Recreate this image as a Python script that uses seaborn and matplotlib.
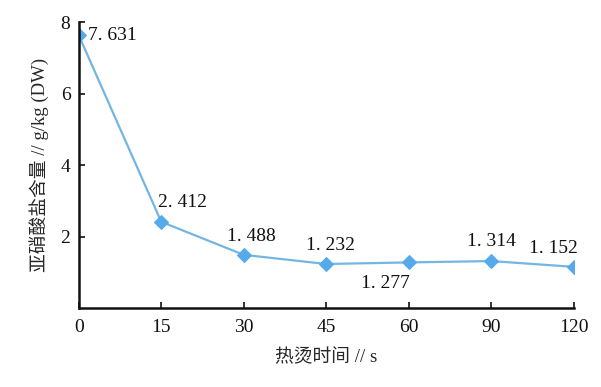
import matplotlib
matplotlib.use("Agg")
import matplotlib.pyplot as plt
import seaborn as sns
import pandas as pd

times = ["0", "15", "30", "45", "60", "90", "120"]
nitrite = [7.631, 2.412, 1.488, 1.232, 1.277, 1.314, 1.152]
labels = ["7. 631", "2. 412", "1. 488", "1. 232", "1. 277", "1. 314", "1. 152"]
# label offsets in points (dx, dy) and horizontal alignment
offsets = [(7, 0, "left"), (-2, 14, "left"), (-12, 13, "left"), (3, 13, "center"),
           (-17, -15, "center"), (0, 14, "center"), (-15, 13, "center")]

sns.set_style("ticks")
plt.rcParams["font.family"] = ["Liberation Serif", "Noto Sans CJK SC", "DejaVu Sans"]

df = pd.DataFrame({"time": times, "nitrite": nitrite})

fig = plt.figure(figsize=(6.01, 3.87), dpi=100)
ax = fig.add_axes([0.131, 0.204, 0.824, 0.739])

sns.lineplot(data=df, x="time", y="nitrite", ax=ax, sort=False,
             color="#74b6e2", linewidth=1.6, marker="D", markersize=7,
             markerfacecolor="#55aaea", markeredgecolor="#55aaea")

for i, (v, lab, (dx, dy, ha)) in enumerate(zip(nitrite, labels, offsets)):
    ax.annotate(lab, (i, v), xytext=(dx, dy), textcoords="offset points",
                ha=ha, va="center", fontsize=14, color="#111111")

ax.set_xlim(0, len(times) - 1)
ax.set_ylim(0, 8)
ax.set_yticks([2, 4, 6, 8])
ax.set_xticks(range(len(times)))
ax.set_xticklabels(times)
ax.tick_params(axis="both", direction="in", length=4, width=1.2, labelsize=14, colors="#111111")
ax.tick_params(axis="x", pad=8)
ax.tick_params(axis="y", pad=6)
for s in ["top", "right"]:
    ax.spines[s].set_visible(False)
for s in ["left", "bottom"]:
    ax.spines[s].set_linewidth(1.8)
    ax.spines[s].set_color("#111111")

ax.set_xlabel("热烫时间 // s", fontsize=13.5, labelpad=9)
ax.set_ylabel("亚硝酸盐含量 // g/kg (DW)", fontsize=13.5, labelpad=8)

fig.savefig("out.png", dpi=100)
